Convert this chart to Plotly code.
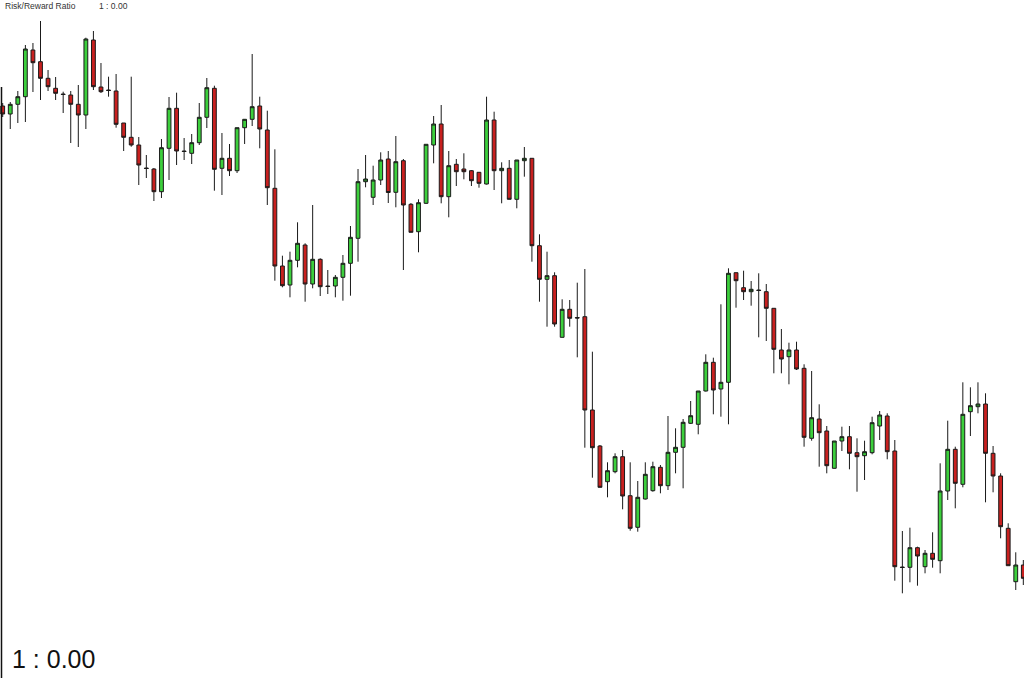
import plotly.graph_objects as go

opens = [572, 564, 573.7, 581.3, 628, 616.3, 599.7, 589.7, 584, 583, 573.7, 563, 638, 591, 588, 587, 555, 540.7, 533, 510,
         509, 486.3, 529.7, 569.7, 527, 524.7, 535.3, 560.7, 589.7, 509.7, 519.7, 507.3, 550.3, 558.7, 572, 548, 489.7, 412, 393, 417.7,
         433, 394, 418.7, 392, 392, 400.7, 414.7, 439.7, 496.3, 480.7, 498, 519, 485.7, 517.3, 473.7, 446.3, 474.7, 533, 554, 481.3,
         513.7, 509, 507.3, 505.7, 494, 558, 507.3, 509.7, 478.7, 517.3, 519.7, 432.3, 398.7, 402.3, 340.7, 368.7, 360.5, 361.3, 268, 232,
         196.3, 206.3, 221.3, 182.3, 150.7, 179, 187.3, 210.7, 192.3, 225.7, 230.7, 254.7, 253.7, 287, 315.7, 289, 295.7, 405.3, 390.3, 386.3,
         388, 386.3, 369.7, 328, 321.3, 328, 309.7, 239.7, 259, 247, 209.7, 237, 241.3, 225.3, 222.3, 225.3, 252, 262, 227, 111,
         110.7, 130.3, 111.3, 124.7, 117.3, 187, 228.7, 193.7, 266.3, 271.3, 274, 224.7, 202, 149.7, 96.3, 113]
highs = [575, 576, 587, 633, 635, 657, 608, 601, 586.3, 587, 593, 640.3, 647, 615, 601.3, 604, 555, 601.3, 541, 523,
         510, 539, 581, 585.3, 540, 544, 575, 600, 592.3, 545, 534, 550.3, 559, 624, 581.3, 567.3, 528.7, 422.3, 426.3, 455.7,
         434.7, 473, 419.7, 408, 403, 423, 452, 509, 523, 512.3, 525.7, 527, 542, 519, 475, 478.7, 533.7, 562, 573, 527,
         519, 524.7, 508, 505.7, 581.3, 566.3, 515.7, 518, 518, 531, 519.7, 443.7, 426.3, 405.7, 378.7, 378, 395.3, 409, 326.3, 233,
         215.7, 224.7, 228, 215.7, 197, 215.7, 216.3, 213, 262, 249.7, 259, 277, 287, 323.7, 320.3, 373.7, 409.7, 405.3, 407.3, 397,
         404.7, 394, 369.7, 349, 335.3, 336.3, 313.7, 307, 273.7, 252, 237, 251.3, 252, 239.7, 237.3, 261.3, 267, 264.7, 238, 147,
         150.3, 131.3, 128, 145.7, 214.7, 257.3, 231.3, 295.7, 290.7, 295.7, 284.7, 232, 204.7, 154.7, 125.7, 118]
lows = [561, 549, 555, 556, 586, 578, 587, 578, 565, 535, 531, 549, 588, 585, 581.3, 550.3, 527, 531.3, 493, 500,
        477, 480, 498, 513, 518, 514, 533, 550, 487.3, 483, 502, 505, 534, 552, 529.7, 473, 397.3, 390.7, 380.7, 410.7,
        376.3, 389.7, 382, 384, 380.7, 377.3, 382.3, 416.3, 490.7, 473, 493, 475, 470.7, 408, 445.7, 425.7, 474, 514.7, 474.7, 460.7,
        492, 498.7, 492, 490.3, 493.5, 488, 474.7, 478.5, 469.7, 501.3, 416.3, 376.3, 351.3, 351.3, 340.5, 351.3, 320.7, 230.3, 200.3, 190.5,
        180.7, 204.7, 168.7, 147.3, 146.3, 178.5, 186.3, 184.7, 188, 204.7, 189.7, 254, 243.7, 286.5, 263.7, 261.3, 253.7, 370.3, 378, 372.3,
        340.7, 337, 304.7, 304.7, 293.7, 308, 231.3, 237.3, 211.3, 204.7, 209.5, 227, 208.7, 186.3, 198, 223.7, 238, 218.7, 97.3, 84.7,
        95.7, 92.3, 104.7, 110.3, 104.7, 178, 169.7, 190.7, 242, 264.7, 175.7, 185.7, 139.7, 112.3, 88, 93]
closes = [564, 573.7, 581.3, 629, 615.3, 599.7, 591.3, 584.7, 583.5, 573.7, 563, 639, 591.3, 586.3, 587.5, 553.7, 540.7, 533, 513, 509.5,
          486.3, 530.3, 569.7, 527, 526.5, 535.3, 560.7, 590.3, 508.7, 519.7, 507.3, 550.3, 558.7, 571.3, 549, 490.3, 412, 392.3, 417.7, 434.7,
          394, 418.7, 391.3, 391.5, 400.7, 414.7, 440.7, 496.3, 499, 498, 518, 485.5, 516.3, 473, 445.7, 475.3, 533.7, 554, 481.3, 512.3,
          506.3, 506.3, 497.3, 494.7, 558, 507.3, 509.7, 478.7, 518, 519.7, 432.3, 398.7, 402.3, 354, 368.7, 359.7, 360, 268, 230.3, 190.7,
          207.3, 221.3, 182, 149.7, 180.7, 203.7, 211.3, 192.3, 225.7, 230.7, 255.7, 262.3, 287, 315.7, 288, 295.7, 404.7, 397.3, 386.3, 388.7,
          387.5, 369.7, 328.7, 319, 328, 309, 240.7, 260.3, 245.3, 212.3, 237, 241.3, 224.7, 221.3, 226.3, 255.3, 263, 226.3, 111.3, 110.5,
          130.3, 122, 124.7, 118.7, 187, 228.7, 194.7, 263.7, 272.3, 274, 224.7, 202, 151.3, 112.3, 113, 99.7]

x = list(range(len(opens)))

fig = go.Figure(go.Candlestick(
    x=x, open=opens, high=highs, low=lows, close=closes,
    increasing=dict(fillcolor="#3CCF3C", line=dict(color="#1a1a1a", width=1)),
    decreasing=dict(fillcolor="#C8201F", line=dict(color="#1a1a1a", width=1)),
    whiskerwidth=0,
    showlegend=False,
    hoverinfo="skip",
))

fig.update_layout(
    width=1024, height=678,
    margin=dict(l=0, r=0, t=0, b=0),
    paper_bgcolor="white", plot_bgcolor="white",
    boxgap=0.28,
    xaxis=dict(visible=False, range=[-0.357, 135.09], rangeslider=dict(visible=False), fixedrange=True),
    yaxis=dict(visible=False, range=[0, 678], fixedrange=True),
    shapes=[dict(type="line", xref="paper", yref="y", x0=1.5/1024, x1=1.5/1024, y0=591, y1=0,
                 line=dict(color="#111", width=1.5))],
    annotations=[
        dict(text="Risk/Reward Ratio", xref="paper", yref="paper", x=3/1024, y=1-6/678,
             xanchor="left", yanchor="middle", showarrow=False,
             font=dict(family="Liberation Sans, Arial", size=8.5, color="#333")),
        dict(text="1 : 0.00", xref="paper", yref="paper", x=97/1024, y=1-6/678,
             xanchor="left", yanchor="middle", showarrow=False,
             font=dict(family="Liberation Sans, Arial", size=8.5, color="#333")),
        dict(text="1 : 0.00", xref="paper", yref="paper", x=10/1024, y=1-658.5/678,
             xanchor="left", yanchor="middle", showarrow=False,
             font=dict(family="Liberation Sans, Arial", size=25, color="#111")),
    ],
)

fig.write_html("out.html", config={"displayModeBar": False},
               post_script="document.body.style.margin='0';document.body.style.overflow='hidden';")
